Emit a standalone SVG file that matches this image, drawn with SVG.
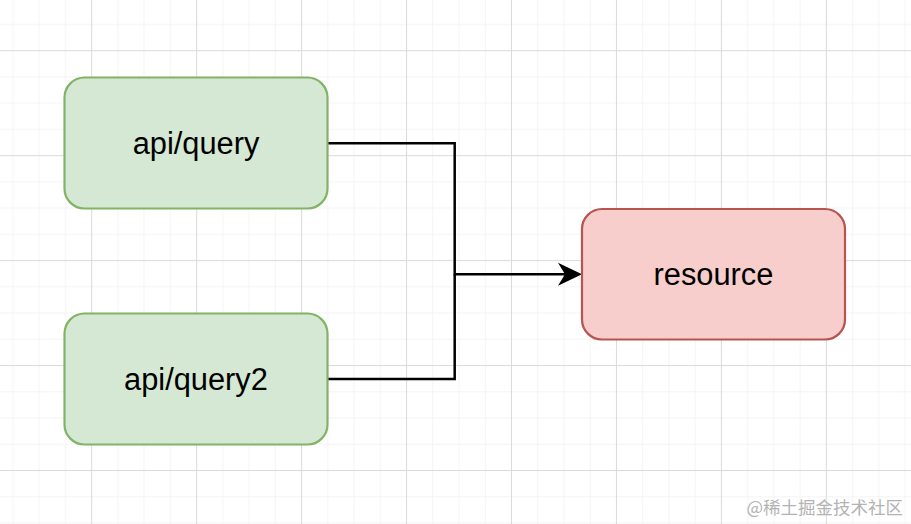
<svg xmlns="http://www.w3.org/2000/svg" width="911" height="524" viewBox="0 0 911 524">
  <style>
    .node-green { fill: #d5e8d4; stroke: #82b366; stroke-width: 2.2; }
    .node-red { fill: #f8cecc; stroke: #b85450; stroke-width: 2.2; }
    .label { font-family: "Liberation Sans", Arial, sans-serif; font-size: 30.8px; fill: #000000; text-anchor: middle; }
    .edge { fill: none; stroke: #000000; stroke-width: 2.5; }
    .wm { font-family: "Noto Sans CJK SC", "Liberation Sans", sans-serif; font-size: 17.5px; fill: #b3b3b3; text-anchor: end; }
  </style>
  <defs>
    <pattern id="grid" patternUnits="userSpaceOnUse" x="91.2" y="50.2" width="104.95" height="104.95">
      <rect x="26.24" y="0" width="1" height="104.95" fill="#f4f4f4"/>
      <rect x="52.47" y="0" width="1" height="104.95" fill="#f4f4f4"/>
      <rect x="78.71" y="0" width="1" height="104.95" fill="#f4f4f4"/>
      <rect x="0" y="26.24" width="104.95" height="1" fill="#f4f4f4"/>
      <rect x="0" y="52.47" width="104.95" height="1" fill="#f4f4f4"/>
      <rect x="0" y="78.71" width="104.95" height="1" fill="#f4f4f4"/>
      <rect x="0" y="0" width="1" height="104.95" fill="#dadada"/>
      <rect x="0" y="0" width="104.95" height="1" fill="#dadada"/>
    </pattern>
    <marker id="arrow" markerUnits="userSpaceOnUse" viewBox="-1 -13 27 26" markerWidth="27" markerHeight="26" refX="7" refY="0" orient="auto">
      <path d="M0,-11.5 L24,0 L0,11.5 L7,0 Z" fill="#000000"/>
    </marker>
  </defs>
  <rect x="0" y="0" width="911" height="524" fill="#ffffff"/>
  <rect x="0" y="0" width="911" height="524" fill="url(#grid)"/>

  <g id="connectors">
    <polyline class="edge" points="328,143.3 454.7,143.3 454.7,274.3 565,274.3" marker-end="url(#arrow)"/>
    <polyline class="edge" points="328,379 454.7,379 454.7,274.3"/>
  </g>

  <g id="node-api-query">
    <rect class="node-green" x="64.5" y="77.5" width="263" height="131" rx="20" ry="20"/>
    <text class="label" x="196" y="154">api/query</text>
  </g>
  <g id="node-api-query2">
    <rect class="node-green" x="64.5" y="313.5" width="263" height="131" rx="20" ry="20"/>
    <text class="label" x="196" y="390">api/query2</text>
  </g>
  <g id="node-resource">
    <rect class="node-red" x="582" y="209" width="263" height="130.5" rx="20" ry="20"/>
    <text class="label" x="713.5" y="284.5">resource</text>
  </g>

  <text class="wm" x="903" y="514">@稀土掘金技术社区</text>
</svg>
